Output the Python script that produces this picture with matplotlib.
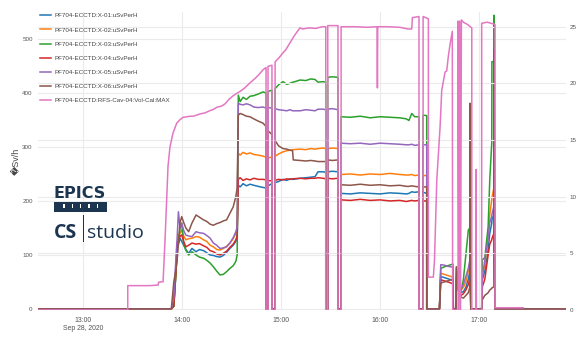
import numpy as np
import pandas as pd
import matplotlib
matplotlib.use("Agg")
import matplotlib.pyplot as plt
from matplotlib import font_manager
from matplotlib.patches import Rectangle

# Prefer a narrow sans for the small UI text, fall back to Liberation Sans
installed = {f.name for f in font_manager.fontManager.ttflist}
if "Liberation Sans Narrow" in installed:
    ui_font, ui_scale = "Liberation Sans Narrow", 1.0
else:
    ui_font, ui_scale = "Liberation Sans", 0.82
plt.rcParams['font.family'] = [ui_font, 'DejaVu Sans']

# ---- data (time in minutes after 13:00 on Sep 28, 2020) ----
base_time = "2020-09-28 13:00"
x_range = [-27.3, 292.7]
tick_minutes = [0, 60, 120, 180, 240]
tick_labels = ["13:00\nSep 28, 2020", "14:00", "15:00", "16:00", "17:00"]

rad_minutes = [
    -27.3, 53.5, 55.0, 56.4, 57.0, 57.8, 58.8, 59.8, 61.0, 62.3, 64.0, 66.0, 68.5, 70.5,
    73.0, 75.0, 77.0, 79.0, 81.0, 83.0, 85.0, 87.0, 89.0, 91.0, 92.6, 93.4, 94.1, 95.2,
    97.0, 99.0, 101.2, 103.5, 106.1, 109.1, 110.9, 110.9, 112.1, 112.1, 114.5, 114.5,
    116.4, 116.4, 118.5, 121.2, 123.5, 125.5, 127.0, 127.4, 131.5, 135.0, 138.0, 140.6,
    142.4, 145.5, 147.1, 147.1, 148.3, 148.3, 151.0, 154.5, 154.5, 156.4, 156.4, 162.0,
    168.0, 174.0, 180.0, 186.0, 192.0, 196.0, 197.5, 199.2, 201.0, 203.6, 203.6, 206.1,
    206.1, 208.3, 208.3, 216.0, 216.8, 219.0, 221.0, 223.0, 224.2, 224.4, 226.0, 226.3,
    227.3, 229.0, 230.5, 232.0, 233.5, 234.4, 234.6, 235.0, 241.6, 242.0, 243.5, 245.5,
    246.5, 247.7, 247.8, 249.0, 249.1, 249.7, 292.7,
]
x01 = [
    0, 0, 5, 72, 115, 120, 131, 125, 118, 110, 103, 112, 106, 110,
    108, 104, 100, 99, 97, 96, 99, 105, 112, 118, 125, 135, 229, 226,
    232, 228, 231, 229, 227, 225, 224, 0, 0, 228, 232, 0,
    0, 234, 236, 240, 238, 241, 240, 240, 242, 243, 244, 245,
    254, 254, 253, 0, 0, 254, 255, 254, 0, 0, 214, 213,
    215, 214, 213, 215, 214, 213, 214, 217, 216, 217, 0, 0,
    216, 214, 0, 0, 60, 58, 56, 54, 52, 0, 0, 60,
    40, 30, 32, 40, 55, 70, 80, 0, 0, 54, 70, 110,
    140, 159, 165, 175, 180, 0, 0,
]
x02 = [
    0, 0, 5, 80, 120, 135, 140, 146, 135, 128, 130, 131, 134, 133,
    128, 125, 118, 115, 110, 109, 112, 116, 122, 130, 140, 146, 288, 285,
    290, 287, 289, 286, 285, 283, 281, 0, 0, 280, 281, 0,
    0, 283, 287, 291, 293, 294, 295, 295, 296, 295, 297, 296,
    297, 298, 297, 0, 0, 297, 298, 297, 0, 0, 249, 250,
    248, 250, 249, 251, 249, 248, 248, 249, 247, 248, 0, 0,
    247, 247, 0, 0, 66, 64, 62, 60, 58, 0, 0, 65,
    45, 35, 40, 50, 70, 85, 95, 0, 0, 66, 80, 137,
    175, 202, 205, 225, 230, 0, 0,
]
x03 = [
    0, 0, 5, 70, 110, 125, 150, 159, 120, 109, 100, 106, 100, 96,
    94, 90, 85, 78, 70, 63, 64, 69, 75, 80, 88, 100, 396, 384,
    392, 388, 394, 395, 398, 402, 400, 0, 0, 403, 405, 0,
    0, 408, 415, 421, 416, 418, 420, 420, 424, 423, 426, 425,
    420, 421, 420, 0, 0, 429, 430, 429, 0, 0, 356, 355,
    357, 354, 356, 355, 354, 352, 349, 362, 356, 356, 0, 0,
    359, 358, 0, 0, 75, 78, 80, 82, 83, 0, 0, 75,
    42, 32, 54, 100, 146, 150, 353, 0, 0, 91, 95, 152,
    239, 307, 458, 458, 544, 0, 0,
]
x04 = [
    0, 0, 5, 75, 110, 125, 135, 137, 125, 115, 118, 122, 120, 121,
    117, 114, 108, 106, 102, 100, 103, 107, 114, 120, 128, 134, 240, 243,
    238, 241, 239, 242, 240, 240, 239, 0, 0, 238, 237, 0,
    0, 238, 240, 239, 241, 240, 241, 241, 242, 241, 242, 242,
    243, 242, 241, 0, 0, 242, 241, 242, 0, 0, 202, 201,
    203, 201, 202, 200, 201, 199, 200, 201, 200, 201, 0, 0,
    200, 200, 0, 0, 54, 52, 50, 48, 46, 0, 0, 55,
    35, 25, 28, 35, 45, 55, 62, 0, 0, 41, 55, 100,
    120, 128, 130, 140, 145, 0, 0,
]
x05 = [
    0, 0, 20, 100, 130, 180, 150, 159, 145, 137, 135, 134, 143, 141,
    140, 136, 131, 122, 118, 112, 113, 115, 122, 132, 143, 152, 381, 379,
    378, 380, 378, 374, 373, 374, 372, 0, 0, 373, 372, 0,
    0, 371, 369, 368, 367, 369, 367, 367, 367, 369, 368, 367,
    370, 370, 369, 0, 0, 370, 371, 369, 0, 0, 307, 306,
    307, 305, 307, 306, 305, 304, 304, 305, 303, 304, 0, 0,
    304, 304, 0, 0, 82, 81, 79, 78, 77, 0, 0, 78,
    48, 38, 45, 60, 75, 90, 100, 0, 0, 60, 90, 130,
    160, 171, 175, 190, 195, 0, 0,
]
x06 = [
    0, 0, 50, 75, 90, 120, 160, 171, 160, 150, 143, 159, 174, 170,
    165, 162, 157, 155, 158, 160, 163, 165, 177, 189, 208, 224, 359, 362,
    360, 357, 356, 352, 348, 344, 338, 0, 0, 330, 323, 0,
    0, 312, 302, 297, 296, 294, 293, 276, 275, 274, 275, 274,
    273, 273, 273, 0, 0, 276, 275, 276, 0, 0, 230, 229,
    231, 229, 230, 228, 229, 227, 227, 228, 227, 226, 0, 0,
    226, 226, 0, 0, 48, 50, 52, 54, 55, 0, 0, 78,
    35, 22, 20, 25, 30, 40, 381, 0, 0, 17, 25, 30,
    35, 38, 39, 41, 480, 0, 0,
]

cav_minutes = [
    -27.3, 27.1, 27.1, 40.0, 45.5, 45.8, 48.5, 49.7, 51.5, 52.7, 54.5, 56.8, 58.8, 60.6,
    64.8, 66.7, 70.9, 74.0, 77.0, 79.0, 81.2, 84.0, 86.1, 88.5, 90.9, 93.0, 95.2, 98.0,
    101.2, 104.0, 106.1, 109.1, 110.9, 110.9, 112.1, 112.1, 114.5, 114.5, 116.4, 116.4,
    119.0, 121.2, 123.0, 125.5, 128.0, 131.5, 133.0, 137.0, 141.0, 145.0, 147.1, 147.1,
    148.3, 148.3, 154.5, 154.5, 156.4, 156.4, 165.0, 172.0, 178.2, 178.4, 178.6, 185.0,
    192.0, 197.0, 199.2, 199.6, 203.6, 203.6, 206.1, 206.1, 209.3, 209.3, 212.3, 213.0,
    214.4, 216.4, 217.4, 219.4, 220.4, 221.4, 222.5, 223.8, 224.0, 227.3, 227.3, 227.8,
    228.3, 228.8, 229.3, 230.5, 233.0, 235.6, 235.6, 238.2, 238.2, 238.4, 241.6, 241.6,
    245.0, 249.7, 249.7, 266.7,
]
cav_values = [
    0, 0, 2.15, 2.15, 2.2, 2.45, 2.5, 6.2, 12.7, 14.4, 15.6, 16.5, 16.8, 17.0,
    17.1, 17.1, 17.3, 17.4, 17.6, 17.7, 17.9, 18.0, 18.2, 18.6, 18.9, 19.1, 19.3, 19.6,
    20.05, 20.4, 20.7, 21.2, 21.4, 0, 0, 21.5, 21.6, 0, 0, 21.9,
    22.3, 22.7, 23.0, 23.6, 24.2, 24.9, 24.8, 24.9, 24.85, 25.0, 25.0, 0,
    0, 25.1, 25.1, 0, 0, 25.0, 25.0, 24.95, 25.0, 19.6, 25.0, 25.0,
    24.95, 24.8, 24.8, 25.8, 25.9, 0, 0, 25.9, 25.7, 2.9, 2.9, 4.4,
    11.5, 16.2, 19.4, 21.0, 21.1, 22.4, 23.5, 24.6, 0, 0, 25.5, 0,
    25.5, 0, 25.6, 25.4, 25.2, 24.9, 0, 0, 12.4, 0, 0, 25.3,
    25.4, 25.2, 0.2, 0.2,
]

series_names = [
    "PF704-ECCTD:X-01:uSvPerH", "PF704-ECCTD:X-02:uSvPerH", "PF704-ECCTD:X-03:uSvPerH",
    "PF704-ECCTD:X-04:uSvPerH", "PF704-ECCTD:X-05:uSvPerH", "PF704-ECCTD:X-06:uSvPerH",
]
cav_name = "PF704-ECCTD:RFS-Cav-04:Vol-Cal:MAX"
left_ticks = [0, 100, 200, 300, 400, 500]
right_ticks = [0, 5, 10, 15, 20, 25]
left_label = "\ufffdSv/h"

colors = ["#1f77b4", "#ff7f0e", "#2ca02c", "#d62728", "#9467bd", "#8c564b"]
cav_color = "#e377c2"

# ---- figure ----
W, H = 586, 338
fig = plt.figure(figsize=(W / 100, H / 100), dpi=100)
ax = fig.add_axes([38 / W, 1 - 310 / H, 528 / W, 298 / H])
ax2 = ax.twinx()

t0 = pd.Timestamp(base_time)
def to_time(mins):
    return t0 + pd.to_timedelta(np.asarray(mins, dtype=float), unit="min")

rad_t = to_time(rad_minutes)
lines = []
for vals, c, name in zip([x01, x02, x03, x04, x05, x06], colors, series_names):
    ln, = ax.plot(rad_t, vals, color=c, lw=1.1, label=name)
    lines.append(ln)
cav_ln, = ax2.plot(to_time(cav_minutes), cav_values, color=cav_color, lw=1.1, label=cav_name)
lines.append(cav_ln)

xlim = to_time(x_range)
ax.set_xlim(xlim[0], xlim[1])
ax.set_ylim(-2, 550)
ax2.set_ylim(0, 26.3)

ax.set_xticks(to_time(tick_minutes))
ax.set_xticklabels(tick_labels)
ax.set_yticks(left_ticks)
ax2.set_yticks(right_ticks)

grid_kw = dict(color="#ebebeb", lw=0.8)
ax.grid(True, axis="both", **grid_kw)
ax2.grid(True, axis="y", **grid_kw)
ax.set_axisbelow(True)
ax2.set_axisbelow(True)

for a in (ax, ax2):
    for s in a.spines.values():
        s.set_visible(False)
    a.tick_params(length=0, colors="#555555")
ax.tick_params(axis="x", pad=5, labelsize=6.0 * ui_scale)
ax.tick_params(axis="y", pad=3.8, labelsize=5.5 * ui_scale)
ax2.tick_params(axis="y", pad=2.5, labelsize=5.5 * ui_scale)

ax.set_ylabel(left_label, fontsize=6.5, color="#444444")
ax.yaxis.set_label_coords(-(38 - 21) / 528, 0.5)

leg_size = 5.5 * ui_scale
leg = ax2.legend(lines, [l.get_label() for l in lines], loc="upper left",
                 bbox_to_anchor=(40 / W, 1 - 13 / H), bbox_transform=fig.transFigure,
                 frameon=False, fontsize=leg_size, handlelength=1.75, handletextpad=0.55,
                 labelspacing=1.4, borderpad=0, borderaxespad=0)
for txt in leg.get_texts():
    txt.set_color("#444444")

# ---- EPICS CS-Studio logo ----
navy = "#1c3550"
def fx(px):
    return px / W
def fy(py):
    return 1 - py / H

fig.text(fx(53.5), fy(198.5), "EPICS", fontsize=11.5, fontweight="bold",
         family=["DejaVu Sans"], color=navy, va="baseline", ha="left")
fig.add_artist(Rectangle((fx(54), fy(212.3)), fx(52.7), 10.6 / H, transform=fig.transFigure,
                         facecolor=navy, edgecolor="none"))
for nx in [63.3, 71.7, 80.0, 88.3, 96.7]:
    fig.add_artist(Rectangle((fx(nx), fy(208)), fx(1.3), 4.5 / H, transform=fig.transFigure,
                             facecolor="white", edgecolor="none"))
fig.text(fx(53.5), fy(238.5), "CS", fontsize=14, fontweight="bold",
         family=["Open Sans", "DejaVu Sans"], color=navy, va="baseline", ha="left")
fig.add_artist(Rectangle((fx(82.6), fy(242)), fx(1.3), 27 / H, transform=fig.transFigure,
                         facecolor=navy, edgecolor="none"))
fig.text(fx(87.5), fy(238.5), "studio", fontsize=14, family=["Open Sans", "DejaVu Sans"],
         color=navy, va="baseline", ha="left")

fig.savefig("out.png", dpi=100)
